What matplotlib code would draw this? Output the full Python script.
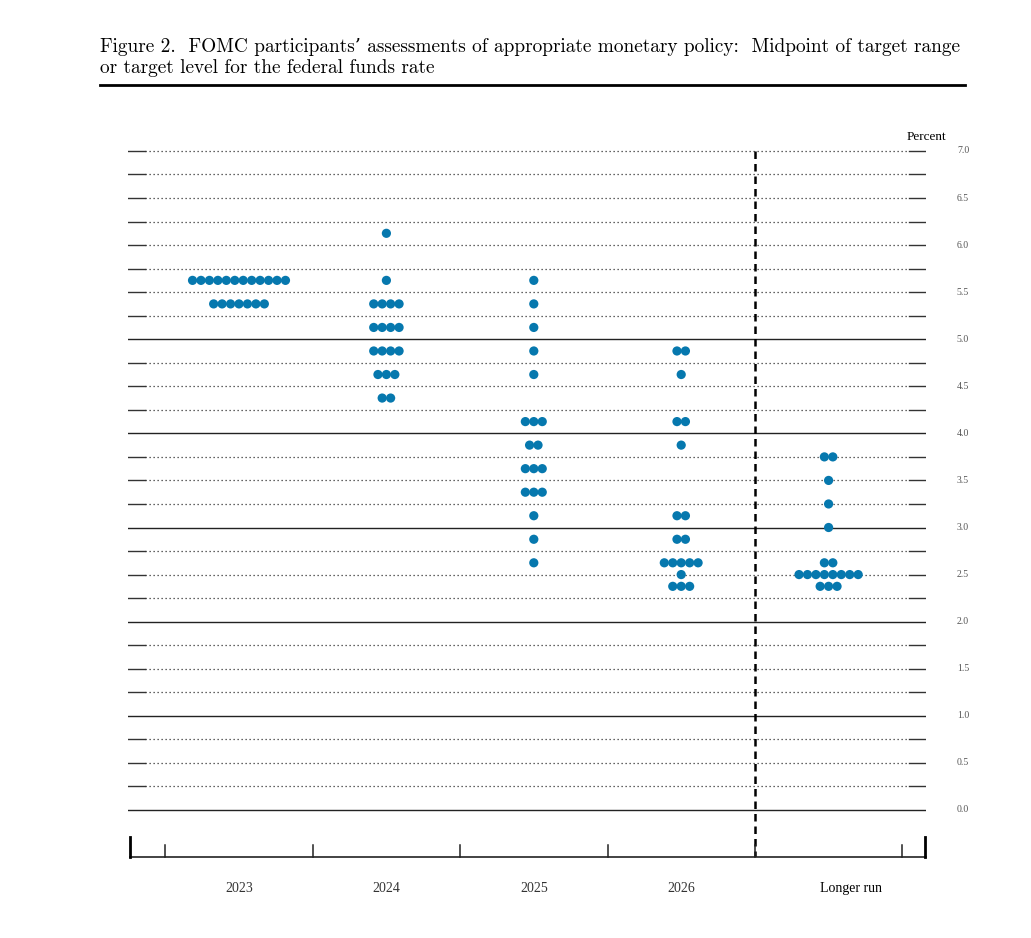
import matplotlib
matplotlib.use("Agg")
import matplotlib.pyplot as plt
import matplotlib.transforms as mtransforms
import numpy as np

# ---------------- data ----------------
categories = ["2023", "2024", "2025", "2026", "Longer run"]

levels_2023 = [5.625, 5.375]
counts_2023 = [12, 7]

levels_2024 = [6.125, 5.625, 5.375, 5.125, 4.875, 4.625, 4.375]
counts_2024 = [1, 1, 4, 4, 4, 3, 2]

levels_2025 = [5.625, 5.375, 5.125, 4.875, 4.625, 4.125, 3.875, 3.625, 3.375, 3.125, 2.875, 2.625]
counts_2025 = [1, 1, 1, 1, 1, 3, 2, 3, 3, 1, 1, 1]

levels_2026 = [4.875, 4.625, 4.125, 3.875, 3.125, 2.875, 2.625, 2.5, 2.375]
counts_2026 = [2, 1, 2, 1, 2, 2, 5, 1, 3]

levels_lr = [3.75, 3.5, 3.25, 3.0, 2.625, 2.5, 2.375]
counts_lr = [2, 1, 1, 1, 2, 8, 3]

ytick_labels = ["0.0", "0.5", "1.0", "1.5", "2.0", "2.5", "3.0", "3.5",
                "4.0", "4.5", "5.0", "5.5", "6.0", "6.5", "7.0"]

title_lines = ["Figure 2.  FOMC participants\u2019 assessments of appropriate monetary policy:  Midpoint of target range",
               "or target level for the federal funds rate"]

# ---------------- figure ----------------
W, H = 1031, 938
fig = plt.figure(figsize=(W / 100, H / 100), dpi=100)

ax_left, ax_right, ax_top, ax_bot = 128, 926, 135, 857
ax = fig.add_axes([ax_left / W, 1 - ax_bot / H, (ax_right - ax_left) / W, (ax_bot - ax_top) / H])

px_per_unit = (810 - 151) / 7.0
ymin = -0.5
ymax = ymin + (ax_bot - ax_top) / px_per_unit
cat_px = 147.4
x0_px = 239
xmin = (ax_left - x0_px) / cat_px
xmax = (ax_right - x0_px) / cat_px
ax.set_xlim(xmin, xmax)
ax.set_ylim(ymin, ymax)
for s in ax.spines.values():
    s.set_visible(False)
ax.set_xticks([])
ax.set_yticks([])

# horizontal reference lines
stub = 17 / cat_px
grid_levels = np.arange(0, 7.01, 0.25)
for lv in grid_levels:
    solid = abs(lv - round(lv)) < 1e-9 and lv <= 5.0
    if solid:
        ax.plot([xmin, xmax], [lv, lv], color="#222222", lw=1.0, zorder=1)
    else:
        ax.plot([xmin + stub, xmax - stub], [lv, lv], color="#333333", lw=0.9,
                linestyle=(0, (1, 2.2)), zorder=1)
        ax.plot([xmin, xmin + stub], [lv, lv], color="#333333", lw=1.0, zorder=1)
        ax.plot([xmax - stub, xmax], [lv, lv], color="#333333", lw=1.0, zorder=1)

# vertical dashed separator
ax.plot([3.5, 3.5], [7.0, ymin], color="black", lw=1.8, linestyle=(0, (3, 2)), zorder=2)

# bottom axis
ax.plot([xmin + 2 / cat_px, xmax], [ymin, ymin], color="#222222", lw=1.2, clip_on=False, zorder=3)
small_tick = 12 / px_per_unit
big_tick = 20 / px_per_unit
for t in np.arange(-0.5, 4.6, 1.0):
    ax.plot([t, t], [ymin, ymin + small_tick], color="#222222", lw=1.1, clip_on=False, zorder=3)
for t in [xmin + 2 / cat_px, xmax - 1 / cat_px]:
    ax.plot([t, t], [ymin, ymin + big_tick], color="black", lw=2.0, clip_on=False, zorder=3)

# dots
dot_color = "#0678AE"
spacing = 8.45 / cat_px
all_levels = [levels_2023, levels_2024, levels_2025, levels_2026, levels_lr]
all_counts = [counts_2023, counts_2024, counts_2025, counts_2026, counts_lr]
for i, (lvls, cnts) in enumerate(zip(all_levels, all_counts)):
    xs, ys = [], []
    for lv, n in zip(lvls, cnts):
        for k in range(n):
            xs.append(i + (k - (n - 1) / 2) * spacing)
            ys.append(lv)
    ax.scatter(xs, ys, s=44, color=dot_color, edgecolors="none", zorder=5)

# category labels
serif = ["Liberation Serif", "DejaVu Serif"]
lab_y = ymin - 31 / px_per_unit
for i, c in enumerate(categories):
    is_lr = c == "Longer run"
    ax.text(i + (0.15 if is_lr else 0.0), lab_y, c, ha="center", va="center",
            fontsize=10, family=serif, color="black" if is_lr else "#333333")

# right tick labels
trans = mtransforms.blended_transform_factory(ax.transAxes, ax.transData)
for j, lab in enumerate(ytick_labels):
    ax.text((963 - ax_left) / (ax_right - ax_left), j * 0.5, lab, transform=trans,
            ha="center", va="center", fontsize=7, family=serif, color="#555555")
ax.text(1.0, (810 - 137) / px_per_unit, "Percent", transform=trans, ha="center",
        va="center", fontsize=9.5, family=serif, color="black")

# title
title_font = ["cmr10", "DejaVu Serif"]
fig.text(100 / W, 1 - 47 / H, title_lines[0], fontsize=13.9, family=title_font,
         ha="left", va="center")
fig.text(100 / W, 1 - 68 / H, title_lines[1], fontsize=13.9, family=title_font,
         ha="left", va="center")
fig.add_artist(plt.Line2D([100 / W, 965 / W], [1 - 85 / H, 1 - 85 / H], color="black", lw=2,
                          transform=fig.transFigure))

fig.savefig("out.png", dpi=100)
